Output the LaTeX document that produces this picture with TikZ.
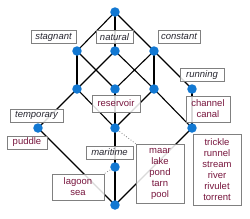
\documentclass[tikz,border=0pt]{standalone}
\usepackage{fontspec}
\setmainfont{Liberation Sans}
\definecolor{dotblue}{RGB}{18,120,210}
\definecolor{objred}{RGB}{120,22,62}
\definecolor{attrgray}{RGB}{40,40,50}
\definecolor{boxgray}{RGB}{128,128,128}
\tikzset{
  dot/.style={circle,fill=dotblue,inner sep=0pt,minimum size=9.5pt},
  edge/.style={draw=black,line width=1.1pt},
  lbl/.style={draw=boxgray,line width=0.8pt,fill=white,fill opacity=0.85,text opacity=1,
     font=\fontsize{9.5}{11}\selectfont,inner xsep=2pt,inner ysep=1.5pt,align=center,
     minimum height=13pt},
  attr/.style={lbl,text=attrgray,font=\fontsize{9.5}{11}\selectfont\itshape},
  obj/.style={lbl,text=objred},
  dotline/.style={draw=gray,line width=0.8pt,dotted}
}
\begin{document}
\begin{tikzpicture}[x=1pt,y=-1pt]
\useasboundingbox (0,0) rectangle (250,218);
% lattice points
\coordinate (T) at (115,12);
\coordinate (S) at (77,51);
\coordinate (N) at (115,51);
\coordinate (C) at (154,51);
\coordinate (A) at (77,89);
\coordinate (B) at (115,89);
\coordinate (D) at (154,89);
\coordinate (R) at (192,89);
\coordinate (Tm) at (38,128);
\coordinate (Re) at (115,128);
\coordinate (Ch) at (192,128);
\coordinate (M) at (115,167);
\coordinate (Bo) at (115,205);
% edges
\draw[edge] (T) -- (S);
\draw[edge] (T) -- (N);
\draw[edge] (T) -- (C);
\draw[edge] (S) -- (A);
\draw[edge] (S) -- (B);
\draw[edge] (N) -- (A);
\draw[edge] (N) -- (D);
\draw[edge] (C) -- (B);
\draw[edge] (C) -- (D);
\draw[edge] (C) -- (R);
\draw[edge] (A) -- (Tm);
\draw[edge] (A) -- (Re);
\draw[edge] (B) -- (Re);
\draw[edge] (D) -- (Re);
\draw[edge] (D) -- (Ch);
\draw[edge] (R) -- (Ch);
\draw[edge] (Tm) -- (Bo);
\draw[edge] (Re) -- (M);
\draw[edge] (M) -- (Bo);
\draw[edge] (Ch) -- (Bo);
% labels
\node[attr,minimum width=45pt] (lstag) at (53.5,37) {stagnant};
\node[attr,minimum width=37pt] (lnat) at (114.5,37) {natural};
\node[attr,minimum width=42pt] (lcon) at (179,36.5) {constant};
\node[attr,minimum width=44pt] (lrun) at (202,75) {running};
\node[attr,minimum width=53pt] (ltem) at (36.5,115.5) {temporary};
\node[obj,minimum width=40pt] (lpud) at (27,142.5) {puddle};
\node[obj,minimum width=48pt,minimum height=17pt] (lres) at (116,103.5) {reservoir};
\node[obj,minimum width=44pt,minimum height=26pt] (lcha) at (208,109) {channel\\canal};
\node[attr,minimum width=47pt] (lmar) at (109.5,152.5) {maritime};
\node[obj,minimum width=52pt,minimum height=26pt] (llag) at (78,187) {lagoon\\sea};
\node[obj,minimum width=48pt,minimum height=59pt] (lmaa) at (160,173.5) {maar\\lake\\pond\\tarn\\pool};
\node[obj,minimum width=48pt,minimum height=71pt] (ltri) at (217,169.5) {trickle\\runnel\\stream\\river\\rivulet\\torrent};
% dotted label connectors
\draw[dotline] (Re) -- (lmaa.north west);
\draw[dotline] (M) -- (llag.north east);
% dots
\foreach \p in {T,S,N,C,A,B,D,R,Tm,Re,Ch,M,Bo}
  \node[dot] (d\p) at (\p) {};
\end{tikzpicture}
\end{document}
